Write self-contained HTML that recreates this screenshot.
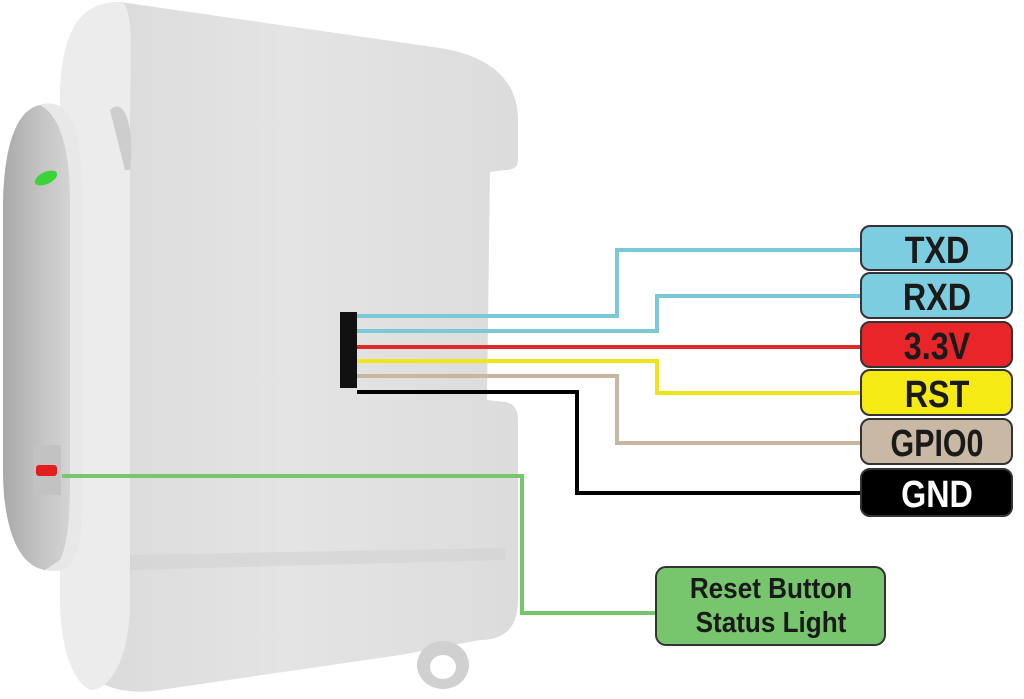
<!DOCTYPE html>
<html><head><meta charset="utf-8"><style>
html,body{margin:0;padding:0;background:#fff;}
svg{display:block}
text{font-family:"Liberation Sans",sans-serif;font-weight:bold;}
</style></head><body>
<svg width="1024" height="699" viewBox="0 0 1024 699">
<defs>
<linearGradient id="body" x1="0" x2="1" y1="0" y2="0">
<stop offset="0" stop-color="#d9d9d9"/><stop offset="0.5" stop-color="#e4e4e4"/><stop offset="1" stop-color="#dcdcdc"/>
</linearGradient>
<linearGradient id="oval" x1="0" x2="1">
<stop offset="0" stop-color="#a9a9a9"/><stop offset="0.5" stop-color="#c4c4c4"/><stop offset="1" stop-color="#d9d9d9"/>
</linearGradient>
</defs>
<path d="M60,95 C62,30 80,2 120,2 L440,48 C490,56 518,80 518,120 L518,160 Q518,170 505,170 L490,172 L487,400 L505,402 Q518,404 518,420 L518,600 Q518,640 480,640 L400,655 L160,690 C100,699 65,670 60,600 Z" fill="url(#body)"/>
<path d="M130,555 L505,548 L505,560 L130,570 Z" fill="#d2d2d2" opacity="0.6"/>
<path d="M60,95 C62,30 80,2 120,2 C135,5 130,60 130,120 L130,600 C130,660 110,690 90,690 C70,680 60,640 60,600 Z" fill="#ececec"/>
<path d="M110,110 C125,95 135,130 130,170 L125,170 Z" fill="#cdcdcd"/>
<ellipse cx="443" cy="665" rx="26" ry="24" fill="#d0d0d0"/>
<ellipse cx="443" cy="667" rx="13" ry="12" fill="#fff"/>
<path d="M40,105 C75,95 80,140 80,200 L80,500 C80,560 70,575 45,570 C15,565 3,520 3,470 L3,210 C3,150 15,110 40,105 Z" fill="url(#oval)"/>
<path d="M40,105 C75,95 82,140 82,200 L82,500 C82,560 72,575 45,570 L60,560 C70,540 70,500 70,480 L70,200 C70,150 60,115 40,105 Z" fill="#e8e8e8"/>
<ellipse cx="46" cy="178" rx="12" ry="6" transform="rotate(-25 46 178)" fill="#3ed23a"/>
<rect x="33" y="445" width="28" height="50" fill="#c2c2c2"/>
<rect x="36" y="465" width="21" height="11" rx="3" fill="#e31e1e"/>
<rect x="340" y="312" width="17" height="76" fill="#111"/>
<g fill="none" stroke-width="4">
<polyline points="357,316 617,316 617,250 862,250" stroke="#7cc8d8"/>
<polyline points="357,331 657,331 657,296 862,296" stroke="#7cc8d8"/>
<polyline points="357,347 862,347" stroke="#e02828"/>
<polyline points="357,361 657,361 657,393 862,393" stroke="#f0e41a"/>
<polyline points="357,376 617,376 617,443 862,443" stroke="#c9b6a0"/>
<polyline points="357,392 577,392 577,493 862,493" stroke="#000"/>
<polyline points="62,476 522,476 522,613 657,613" stroke="#77c66e"/>
</g>
<g stroke="#333" stroke-width="2">
<rect x="861" y="226" width="151" height="44" rx="9" fill="#7ccde0"/>
<rect x="861" y="273" width="151" height="45" rx="9" fill="#7ccde0"/>
<rect x="861" y="322" width="151" height="45" rx="9" fill="#e8262a"/>
<rect x="861" y="370" width="151" height="45" rx="9" fill="#f5ea14"/>
<rect x="861" y="419" width="151" height="45" rx="9" fill="#c9b8a4"/>
<rect x="861" y="469" width="151" height="47" rx="9" fill="#000"/>
<rect x="656" y="567" width="229" height="78" rx="10" fill="#77c66e"/>
</g>
<g font-size="38" text-anchor="middle" fill="#1a1a1a">
<text transform="translate(937,263) scale(0.85,1)">TXD</text>
<text transform="translate(937,310) scale(0.85,1)">RXD</text>
<text transform="translate(937,359) scale(0.85,1)">3.3V</text>
<text transform="translate(937,407) scale(0.85,1)">RST</text>
<text transform="translate(937,456) scale(0.8,1)">GPIO0</text>
<text transform="translate(937,507) scale(0.85,1)" fill="#fff">GND</text>
</g>
<g font-size="29" text-anchor="middle" fill="#1a1a1a">
<text transform="translate(771,598) scale(0.9,1)">Reset Button</text>
<text transform="translate(771,632) scale(0.9,1)">Status Light</text>
</g>
</svg>
</body></html>
